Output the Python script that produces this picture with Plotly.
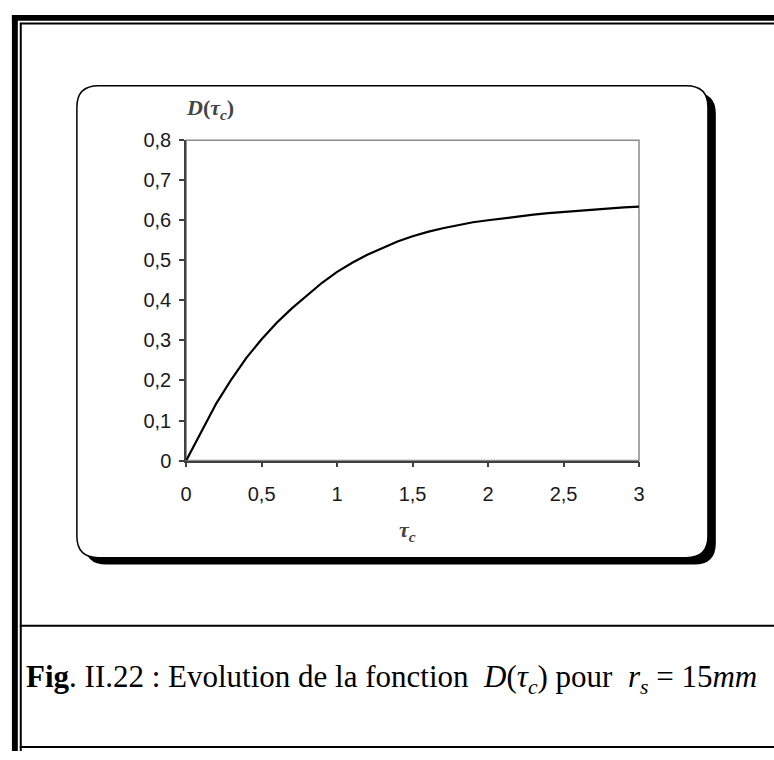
import plotly.graph_objects as go

# ---- data ----
tau = [0.0, 0.1, 0.2, 0.3, 0.4, 0.5, 0.6, 0.7, 0.8, 0.9, 1.0,
       1.1, 1.2, 1.3, 1.4, 1.5, 1.6, 1.7, 1.8, 1.9, 2.0,
       2.1, 2.2, 2.3, 2.4, 2.5, 2.6, 2.7, 2.8, 2.9, 3.0]
D = [0.000, 0.073, 0.143, 0.203, 0.257, 0.303, 0.344, 0.380, 0.413, 0.444, 0.471,
     0.494, 0.514, 0.531, 0.547, 0.560, 0.571, 0.580, 0.588, 0.595, 0.600,
     0.605, 0.610, 0.614, 0.618, 0.621, 0.624, 0.627, 0.629, 0.632, 0.634]
x_tickvals = [0, 0.5, 1, 1.5, 2, 2.5, 3]
x_ticktext = ["0", "0,5", "1", "1,5", "2", "2,5", "3"]
y_tickvals = [0, 0.1, 0.2, 0.3, 0.4, 0.5, 0.6, 0.7, 0.8]
y_ticktext = ["0", "0,1", "0,2", "0,3", "0,4", "0,5", "0,6", "0,7", "0,8"]

W, H = 774, 760


def px(x):
    return x / W


def py(y):
    return 1 - y / H


def rrect_path(x0, y0, x1, y1, r):
    pts = [
        ("M", [(x0 + r, y0)]),
        ("L", [(x1 - r, y0)]),
        ("Q", [(x1, y0), (x1, y0 + r)]),
        ("L", [(x1, y1 - r)]),
        ("Q", [(x1, y1), (x1 - r, y1)]),
        ("L", [(x0 + r, y1)]),
        ("Q", [(x0, y1), (x0, y1 - r)]),
        ("L", [(x0, y0 + r)]),
        ("Q", [(x0, y0), (x0 + r, y0)]),
    ]
    s = ""
    for cmd, ps in pts:
        s += cmd + " ".join(f"{px(a):.5f},{py(b):.5f}" for a, b in ps) + " "
    return s + "Z"


fig = go.Figure()
fig.add_trace(go.Scatter(x=tau, y=D, mode="lines",
                         line=dict(color="black", width=2.2),
                         showlegend=False, hoverinfo="skip"))

shapes = []
shapes.append(dict(type="path", xref="paper", yref="paper", layer="below",
                   path=rrect_path(80, 84, 721, 570, 22),
                   fillcolor="black", line=dict(width=0)))
shapes.append(dict(type="path", xref="paper", yref="paper", layer="below",
                   path=rrect_path(72, 77, 713, 563, 22),
                   fillcolor="white", line=dict(color="black", width=1.5)))
shapes.append(dict(type="rect", xref="x domain", yref="y domain", layer="below",
                   x0=0, x1=1, y0=0, y1=1,
                   line=dict(color="#8c8c8c", width=1.5), fillcolor="rgba(0,0,0,0)"))
shapes.append(dict(type="rect", xref="paper", yref="paper", x0=px(6), x1=1.01,
                   y0=py(10), y1=py(4), fillcolor="black", line=dict(width=0)))
shapes.append(dict(type="rect", xref="paper", yref="paper", x0=px(6), x1=px(12),
                   y0=py(762), y1=py(4), fillcolor="black", line=dict(width=0)))
shapes.append(dict(type="line", xref="paper", yref="paper", x0=px(14), x1=1.01,
                   y0=py(13), y1=py(13), line=dict(color="black", width=2)))
shapes.append(dict(type="line", xref="paper", yref="paper", x0=px(15), x1=px(15),
                   y0=py(13), y1=py(762), line=dict(color="black", width=2)))
shapes.append(dict(type="line", xref="paper", yref="paper", x0=px(14), x1=1.01,
                   y0=py(633), y1=py(633), line=dict(color="black", width=2)))
shapes.append(dict(type="line", xref="paper", yref="paper", x0=px(14), x1=1.01,
                   y0=py(758), y1=py(758), line=dict(color="black", width=2)))

annotations = [
    dict(text="<b><i>D</i>(<i>τ<sub>c</sub></i>)</b>", x=px(207), y=py(101),
         xref="paper", yref="paper", xanchor="center", yanchor="middle",
         showarrow=False,
         font=dict(family="Liberation Serif", size=22, color="#444444")),
    dict(text="<b><i>τ<sub>c</sub></i></b>", x=px(408), y=py(535),
         xref="paper", yref="paper", xanchor="center", yanchor="middle",
         showarrow=False,
         font=dict(family="Liberation Serif", size=22, color="#444444")),
    dict(text="<b>Fig</b>. II.22 : Evolution de la fonction  <i>D</i>(<i>τ<sub>c</sub></i>) pour  "
              "<i>r<sub>s</sub></i> = 15<i>mm</i>",
         x=px(18), y=py(688), xref="paper", yref="paper", xanchor="left",
         yanchor="middle", showarrow=False,
         font=dict(family="Liberation Serif", size=31, color="black")),
]

fig.update_layout(
    width=W, height=H,
    margin=dict(l=0, r=0, t=0, b=0),
    paper_bgcolor="white", plot_bgcolor="rgba(0,0,0,0)",
    separators=", ",
    shapes=shapes, annotations=annotations,
    xaxis=dict(domain=[px(183), px(643)], range=[0, 3],
               tickvals=x_tickvals, ticktext=x_ticktext,
               ticks="outside", ticklen=5, tickwidth=1.5, tickcolor="#404040",
               showline=True, linecolor="#404040", linewidth=1.8,
               showgrid=False, zeroline=False, ticklabelstandoff=10,
               tickfont=dict(family="Liberation Sans", size=20, color="#1a1a1a")),
    yaxis=dict(domain=[py(463), py(133)], range=[0, 0.8],
               tickvals=y_tickvals, ticktext=y_ticktext,
               ticks="outside", ticklen=5, tickwidth=1.5, tickcolor="#404040",
               showline=True, linecolor="#404040", linewidth=1.8,
               showgrid=False, zeroline=False, ticklabelstandoff=4,
               tickfont=dict(family="Liberation Sans", size=20, color="#1a1a1a")),
)

fig.write_html("out.html")
